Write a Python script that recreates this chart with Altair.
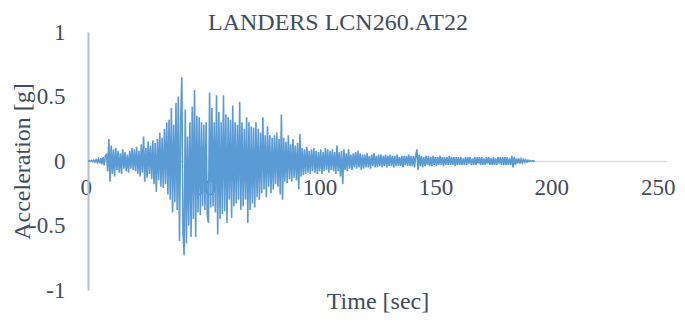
import altair as alt
import pandas as pd

# acceleration [g] sampled every 0.5 s, one row per 10 s
row00 = [0.0, 0.002, -0.003, 0.004, -0.005, 0.006, -0.008, 0.01, -0.012, 0.015, -0.018, 0.022, -0.025, 0.03, -0.035, 0.04, 0.05, -0.08, 0.17, -0.16]
row10 = [0.12, -0.1, 0.09, -0.12, 0.1, -0.07, 0.08, -0.09, 0.06, -0.1, 0.09, -0.06, 0.07, -0.08, 0.05, -0.09, 0.08, -0.06, 0.1, -0.07]
row20 = [0.09, -0.08, 0.11, -0.1, 0.08, -0.12, 0.13, -0.09, 0.19, -0.16, 0.1, -0.13, 0.15, -0.1, 0.12, -0.14, 0.16, -0.18, 0.14, -0.24]
row30 = [0.17, -0.15, 0.22, -0.2, 0.18, -0.21, 0.25, -0.18, 0.3, -0.26, 0.32, -0.3, 0.41, -0.4, 0.28, -0.32, 0.45, -0.38, 0.5, -0.62]
row40 = [0.3, 0.65, -0.55, -0.73, 0.4, -0.64, 0.19, -0.5, 0.3, -0.59, 0.42, -0.45, 0.55, -0.59, 0.35, -0.4, 0.34, -0.42, 0.3, -0.35]
row50 = [0.28, -0.38, 0.3, -0.42, -0.48, 0.53, -0.36, 0.41, -0.35, 0.3, -0.4, 0.51, -0.57, 0.38, -0.45, 0.3, -0.41, 0.51, -0.39, 0.36]
row60 = [-0.48, 0.34, -0.3, 0.32, -0.44, 0.43, -0.35, 0.3, -0.33, 0.28, -0.3, 0.46, -0.38, 0.3, -0.35, 0.25, -0.3, 0.34, -0.48, 0.3]
row70 = [-0.38, 0.27, -0.33, 0.26, -0.36, 0.3, -0.28, 0.25, -0.3, 0.22, -0.25, 0.34, -0.22, 0.2, -0.28, 0.27, -0.2, 0.2, -0.25, 0.18]
row80 = [-0.22, 0.2, -0.18, 0.22, -0.2, 0.17, -0.26, 0.36, -0.3, 0.18, -0.16, 0.15, -0.17, 0.2, -0.14, 0.13, -0.16, 0.17, -0.13, 0.12]
row90 = [-0.15, 0.14, -0.22, 0.21, -0.12, 0.1, -0.11, 0.09, -0.1, 0.11, -0.09, 0.08, -0.1, 0.09, -0.08, 0.1, -0.09, 0.08, -0.1, 0.07]
row100 = [-0.08, 0.09, -0.1, 0.07, -0.08, 0.1, -0.07, 0.09, -0.09, 0.08, -0.07, 0.09, -0.08, 0.07, -0.1, 0.12, -0.08, 0.07, -0.12, 0.08]
row110 = [-0.18, 0.09, -0.07, 0.06, -0.08, 0.09, -0.06, 0.05, -0.07, 0.06, -0.05, 0.07, -0.06, 0.08, -0.05, 0.06, -0.07, 0.05, -0.06, 0.05]
row120 = [-0.05, 0.06, -0.05, 0.04, -0.06, 0.05, -0.04, 0.06, -0.05, 0.04, -0.05, 0.05, -0.04, 0.05, -0.05, 0.04, -0.04, 0.05, -0.05, 0.04]
row130 = [-0.04, 0.05, -0.04, 0.04, -0.05, 0.04, -0.04, 0.05, -0.04, 0.03, -0.04, 0.04, -0.05, 0.04, -0.03, 0.04, -0.04, 0.05, -0.04, 0.04]
row140 = [-0.04, 0.04, -0.05, 0.04, 0.09, -0.07, 0.05, -0.04, 0.04, -0.05, 0.03, -0.04, 0.04, -0.03, 0.04, -0.04, 0.03, -0.04, 0.04, -0.03]
row150 = [0.03, -0.04, 0.03, -0.03, 0.04, -0.03, 0.03, -0.04, 0.03, -0.03, 0.03, -0.03, 0.04, -0.03, 0.03, -0.03, 0.03, -0.04, 0.03, -0.03]
row160 = [0.03, -0.03, 0.03, -0.03, 0.02, -0.03, 0.03, -0.03, 0.03, -0.02, 0.03, -0.03, 0.02, -0.03, 0.03, -0.03, 0.03, -0.02, 0.03, -0.03]
row170 = [0.03, -0.03, 0.02, -0.03, 0.03, -0.02, 0.03, -0.03, 0.02, -0.03, 0.03, -0.03, 0.02, -0.03, 0.03, -0.02, 0.03, -0.03, 0.03, -0.03]
row180 = [0.03, -0.03, 0.03, -0.03, 0.02, -0.03, 0.04, -0.05, 0.03, -0.03, 0.02, -0.02, 0.02, -0.02, 0.015, -0.015, 0.012, -0.01, 0.01, -0.008]
row190 = [0.006, -0.005, 0.004, -0.003, 0.002, -0.001, 0.0]

rows = [row00, row10, row20, row30, row40, row50, row60, row70, row80, row90,
        row100, row110, row120, row130, row140, row150, row160, row170, row180, row190]
dt = 0.5

x_ticks = [0, 50, 100, 150, 200, 250]
y_ticks = [-1, -0.5, 0, 0.5, 1]
title_text = ["LANDERS LCN260.AT22"]

acc = [v for r in rows for v in r]
time = [i * dt for i in range(len(acc))]
df = pd.DataFrame({"t": time, "a": acc})

FONT = "Liberation Serif"
TXT = "#404d5e"

line = alt.Chart(df).mark_line(color="#5b9bd5", strokeWidth=1.6).encode(
    x=alt.X("t:Q",
            scale=alt.Scale(domain=[0, 250], nice=False),
            axis=alt.Axis(values=x_ticks, title="Time [sec]", grid=False, ticks=False,
                          offset=-129, domainColor="#d9dde2", domainWidth=1.5,
                          labelFont=FONT, labelFontSize=23, labelColor=TXT, labelPadding=15,
                          labelFlush=True, labelFlushOffset=8,
                          titleFont=FONT, titleFontSize=24, titleFontWeight="normal", titleColor=TXT,
                          titleX=289.5, titleY=147, titleBaseline="alphabetic", titleAlign="center")),
    y=alt.Y("a:Q",
            scale=alt.Scale(domain=[-1, 1], nice=False),
            axis=alt.Axis(values=y_ticks, title="Acceleration [g]", grid=False, ticks=False,
                          domainColor="#b6bfcb", domainWidth=2,
                          labelFont=FONT, labelFontSize=23, labelColor=TXT, labelPadding=23,
                          labelFlush=False,
                          labelExpr="datum.value == 0 ? '0' : (datum.value < 0 ? '-' : '') + toString(abs(datum.value))",
                          titleFont=FONT, titleFontSize=24, titleFontWeight="normal", titleColor=TXT,
                          titleAngle=270, titleX=-66, titleY=129, titleBaseline="middle", titleAlign="center")),
)

title = alt.Chart(pd.DataFrame({"title": title_text})).mark_text(
    font=FONT, fontSize=24, color=TXT, align="center", baseline="alphabetic"
).encode(x=alt.value(250), y=alt.value(-2), text="title:N")

chart = alt.layer(line, title).properties(
    width=579, height=258,
    autosize="none",
    padding={"left": 80, "top": 24, "right": 10, "bottom": 24},
).configure_view(stroke=None)

chart.save("out.html", embed_options={"renderer": "svg", "actions": False})
